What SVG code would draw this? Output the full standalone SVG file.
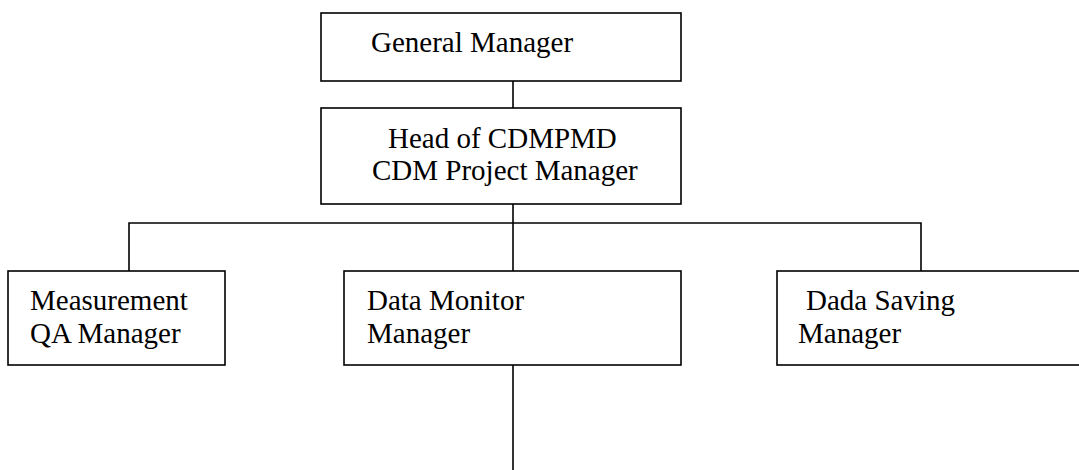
<svg xmlns="http://www.w3.org/2000/svg" width="1079" height="470" viewBox="0 0 1079 470">
<style>
.box{fill:#fff;stroke:#000;stroke-width:1.6}
.ln{fill:none;stroke:#000;stroke-width:1.6}
text{font-family:"Liberation Serif","Times New Roman",serif;font-size:29px;fill:#000}
</style>
<rect width="1079" height="470" fill="#fff"/>
<g id="connectors">
<line class="ln" x1="513" y1="81" x2="513" y2="108"/>
<line class="ln" x1="513" y1="204" x2="513" y2="271"/>
<polyline class="ln" points="129,271 129,223 921,223 921,271"/>
<line class="ln" x1="513" y1="365" x2="513" y2="470"/>
</g>
<g id="general-manager">
<rect class="box" x="321" y="13" width="360" height="68"/>
<text x="371" y="52">General Manager</text>
</g>
<g id="head-cdmpmd">
<rect class="box" x="321" y="108" width="360" height="96"/>
<text x="388" y="148">Head of CDMPMD</text>
<text x="372" y="180">CDM Project Manager</text>
</g>
<g id="measurement-qa">
<rect class="box" x="8" y="271" width="217" height="94"/>
<text x="30" y="310">Measurement</text>
<text x="30" y="343">QA Manager</text>
</g>
<g id="data-monitor">
<rect class="box" x="344" y="271" width="337" height="94"/>
<text x="367" y="310">Data Monitor</text>
<text x="367" y="343">Manager</text>
</g>
<g id="dada-saving">
<rect class="box" x="777" y="271" width="310" height="94"/>
<text x="806" y="310">Dada Saving</text>
<text x="798" y="343">Manager</text>
</g>
</svg>
